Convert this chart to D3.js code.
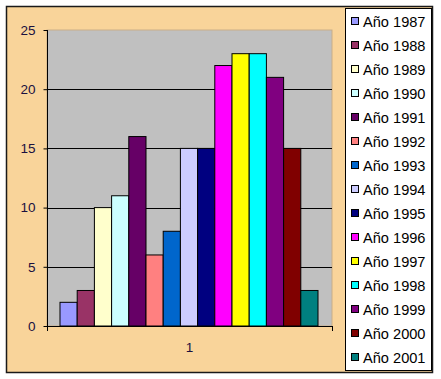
<!DOCTYPE html>
<html>
<head>
<meta charset="utf-8">
<script src="https://cdn.jsdelivr.net/npm/d3@7"></script>
<style>
  body { margin: 0; background: #fff; }
  svg text { font-family: "Liberation Sans", Arial, sans-serif; }
</style>
</head>
<body>
<svg id="canvas"></svg>
<script>
const years = ["Año 1987", "Año 1988", "Año 1989", "Año 1990", "Año 1991", "Año 1992", "Año 1993", "Año 1994",
  "Año 1995", "Año 1996", "Año 1997", "Año 1998", "Año 1999", "Año 2000", "Año 2001"];
const values = [2, 3, 10, 11, 16, 6, 8, 15, 15, 22, 23, 23, 21, 15, 3];
const colors = ["#9999FF", "#993366", "#FFFFCC", "#CCFFFF", "#660066", "#FF8080", "#0066CC", "#CCCCFF",
  "#000080", "#FF00FF", "#FFFF00", "#00FFFF", "#800080", "#800000", "#008080"];
const yTicks = [0, 5, 10, 15, 20, 25];
const categories = ["1"];

const width = 441;
const height = 379;

let canvas = d3.select("#canvas").attr("width", width).attr("height", height);

// chart area background
canvas.append("rect")
  .attr("x", 6.5).attr("y", 6.5)
  .attr("width", 426).attr("height", 366)
  .attr("fill", "#F9D49A")
  .attr("stroke", "#1a1a1a")
  .attr("stroke-width", 1.5);

const plot = { left: 47, top: 30, right: 332, bottom: 326 };

let y = d3.scaleLinear().domain([0, 25]).range([plot.bottom, plot.top]);
let x = d3.scaleBand().domain(categories).range([plot.left, plot.right]);
let xInner = d3.scaleBand().domain(years).range([60, 318]);

canvas.append("rect")
  .attr("x", plot.left).attr("y", plot.top)
  .attr("width", plot.right - plot.left).attr("height", plot.bottom - plot.top)
  .attr("fill", "#C0C0C0")
  .attr("stroke", "#C9AE88")
  .attr("stroke-width", 1);

// gridlines
canvas.selectAll(".grid")
  .data(yTicks.filter((t) => t > 0 && t < 25))
  .enter()
  .append("line")
  .attr("x1", plot.left).attr("x2", plot.right)
  .attr("y1", (t) => Math.round(y(t)) + 0.5)
  .attr("y2", (t) => Math.round(y(t)) + 0.5)
  .attr("stroke", "#000")
  .attr("stroke-width", 1);

// bars
canvas.selectAll(".bar")
  .data(values)
  .enter()
  .append("rect")
  .attr("x", (d, i) => xInner(years[i]))
  .attr("y", (d) => y(d))
  .attr("width", xInner.bandwidth())
  .attr("height", (d) => plot.bottom - y(d))
  .attr("fill", (d, i) => colors[i])
  .attr("stroke", "#000")
  .attr("stroke-width", 1);

// y axis
let yAxis = d3.axisLeft(y).tickValues(yTicks).tickSize(4).tickPadding(8);
let gy = canvas.append("g")
  .attr("transform", "translate(" + (plot.left + 0.5) + ",0)")
  .call(yAxis);
gy.select(".domain").attr("stroke", "#000").attr("d", "M0," + plot.top + "V" + plot.bottom);
gy.selectAll("text").attr("font-size", 13.5).attr("fill", "#1a1040")
  .attr("font-family", "Liberation Sans, Arial, sans-serif");

// x axis
canvas.append("line")
  .attr("x1", plot.left).attr("x2", plot.right + 0.5)
  .attr("y1", plot.bottom + 0.5).attr("y2", plot.bottom + 0.5)
  .attr("stroke", "#000");
canvas.selectAll(".xtick")
  .data([plot.left, plot.right])
  .enter()
  .append("line")
  .attr("x1", (d) => d + 0.5).attr("x2", (d) => d + 0.5)
  .attr("y1", plot.bottom).attr("y2", plot.bottom + 5)
  .attr("stroke", "#000");
canvas.selectAll(".xlabel")
  .data(categories)
  .enter()
  .append("text")
  .attr("x", (c) => x(c) + x.bandwidth() / 2)
  .attr("y", 352)
  .attr("text-anchor", "middle")
  .attr("font-size", 13.5)
  .attr("fill", "#1a1040")
  .text((c) => c);

// legend
let legend = canvas.append("g");
legend.append("rect")
  .attr("x", 345.5).attr("y", 8.5)
  .attr("width", 86).attr("height", 362)
  .attr("fill", "#fff")
  .attr("stroke", "#000");

let item = legend.selectAll(".item")
  .data(years)
  .enter()
  .append("g")
  .attr("transform", (d, i) => "translate(0," + (21 + i * 24) + ")");

item.append("rect")
  .attr("x", 351.5).attr("y", -3.5)
  .attr("width", 7).attr("height", 7)
  .attr("fill", (d, i) => colors[i])
  .attr("stroke", "#000");

item.append("text")
  .attr("x", 363)
  .attr("y", 5.5)
  .attr("font-size", 14.6)
  .attr("fill", "#000")
  .text((d) => d);
</script>
</body>
</html>
